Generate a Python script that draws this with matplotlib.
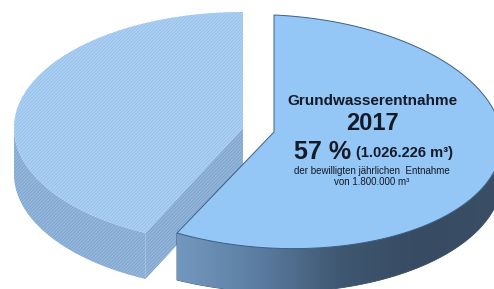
import matplotlib.pyplot as plt
import numpy as np
from matplotlib.patches import Polygon
from matplotlib.colors import LinearSegmentedColormap

plt.rcParams['font.family'] = ['Liberation Sans', 'DejaVu Sans']
plt.rcParams['hatch.linewidth'] = 0.4

# data
labels = ['Entnahme 2017', 'Rest']
values = [57, 43]
title = 'Grundwasserentnahme'
year = '2017'
amount = '(1.026.226 m³)'
sub1 = 'der bewilligten jährlichen  Entnahme'
sub2 = 'von 1.800.000 m³'

# geometry of the back slice (pixels)
cx, cy = 243, 128
a, b = 229, 116
depth = 46

total = sum(values)
sweep_main = 360*values[0]/total
sweep_rest = 360*values[1]/total


def arc(c, t0, t1, n=120):
    th = np.radians(np.linspace(t0, t1, n))
    return np.column_stack([c[0] + a*np.cos(th), c[1] - b*np.sin(th)])


def homography(src, dst):
    A, rhs = [], []
    for (u, v), (x, y) in zip(src, dst):
        A.append([u, v, 1, 0, 0, 0, -u*x, -v*x]); rhs.append(x)
        A.append([0, 0, 0, u, v, 1, -u*y, -v*y]); rhs.append(y)
    h = np.linalg.solve(np.array(A, float), np.array(rhs, float))
    return np.append(h, 1).reshape(3, 3)


def proj(H, th_deg):
    th = np.radians(th_deg)
    p = H @ np.vstack([np.cos(th), np.sin(th), np.ones_like(th)])
    return np.column_stack([p[0]/p[2], p[1]/p[2]])


fig = plt.figure(figsize=(4.94, 2.89), dpi=100)
ax = fig.add_axes([0, 0, 1, 1])
ax.set_xlim(0, 494)
ax.set_ylim(289, 0)
ax.axis('off')

# rest slice (left, hatched), from 90 deg counter-clockwise
r0, r1 = 90, 90 + sweep_rest
c_rest = np.array([cx, cy])
rim = arc(c_rest, r1, r1, 1)[0]
face = np.array([c_rest, rim, rim + [0, depth], c_rest + [0, depth]])
top = arc(c_rest, 180, r1)
hatch_kw = dict(hatch='/' * 10, linewidth=0)
ax.add_patch(Polygon(face, facecolor='#93b6dc', edgecolor='#7597bf', **hatch_kw))
ax.add_patch(Polygon(np.vstack([top, (top + [0, depth])[::-1]]),
                     facecolor='#94b7de', edgecolor='#7799c2', **hatch_kw))
ax.add_patch(Polygon(np.vstack([[c_rest], arc(c_rest, r0, r1)]),
                     facecolor='#abd0f4', edgecolor='#90b8e4', **hatch_kw))

# main slice (right), exploded to the right, drawn in perspective
m0, m1 = 90 - sweep_main, 90
t0 = np.radians(m0)
c_main = np.array([274, 132])
H = homography([(0, 0), (0, 1), (np.cos(t0), np.sin(t0)), (1, 0)],
               [c_main, (274, 15), (177, 233), (502, 142)])
top_m = proj(H, np.linspace(m0, 0, 150))
d = np.interp(top_m[:, 0], [177, 494], [47, 37])
sp = np.vstack([top_m, (top_m + np.column_stack([np.zeros_like(d), d]))[::-1]])
side_patch = Polygon(sp, facecolor='none', edgecolor='#2f4560', linewidth=0.6)
ax.add_patch(side_patch)
cmap = LinearSegmentedColormap.from_list('side', ['#7398bf', '#5b7da1', '#3f5771', '#374b62', '#3a4f66'])
im = ax.imshow(np.linspace(0, 1, 256)[None, :], cmap=cmap, aspect='auto', zorder=1,
               extent=[sp[:, 0].min(), sp[:, 0].max(), sp[:, 1].max(), sp[:, 1].min()])
im.set_clip_path(side_patch)
top_face = proj(H, np.linspace(m0, m1, 200))
ax.add_patch(Polygon(np.vstack([[c_main], top_face]), facecolor='#94c6f6',
                     edgecolor='#3d5f84', linewidth=0.7, zorder=2))

# labels
tc = '#141a26'
tx = 372
ax.text(tx, 101, title, ha='center', va='center', fontsize=11, fontweight='bold', color=tc, zorder=3)
ax.text(tx, 123, year, ha='center', va='center', fontsize=17, fontweight='bold', color=tc, zorder=3)
ax.text(351, 152, f'{values[0]} %', ha='right', va='center', fontsize=18, fontweight='bold', color=tc, zorder=3)
ax.text(356, 153, amount, ha='left', va='center', fontsize=10.5, fontweight='bold', color=tc, zorder=3)
ax.text(tx, 171, sub1, ha='center', va='center', fontsize=7, color=tc, zorder=3)
ax.text(tx, 182, sub2, ha='center', va='center', fontsize=7, color=tc, zorder=3)

fig.savefig('out.png', dpi=100)
